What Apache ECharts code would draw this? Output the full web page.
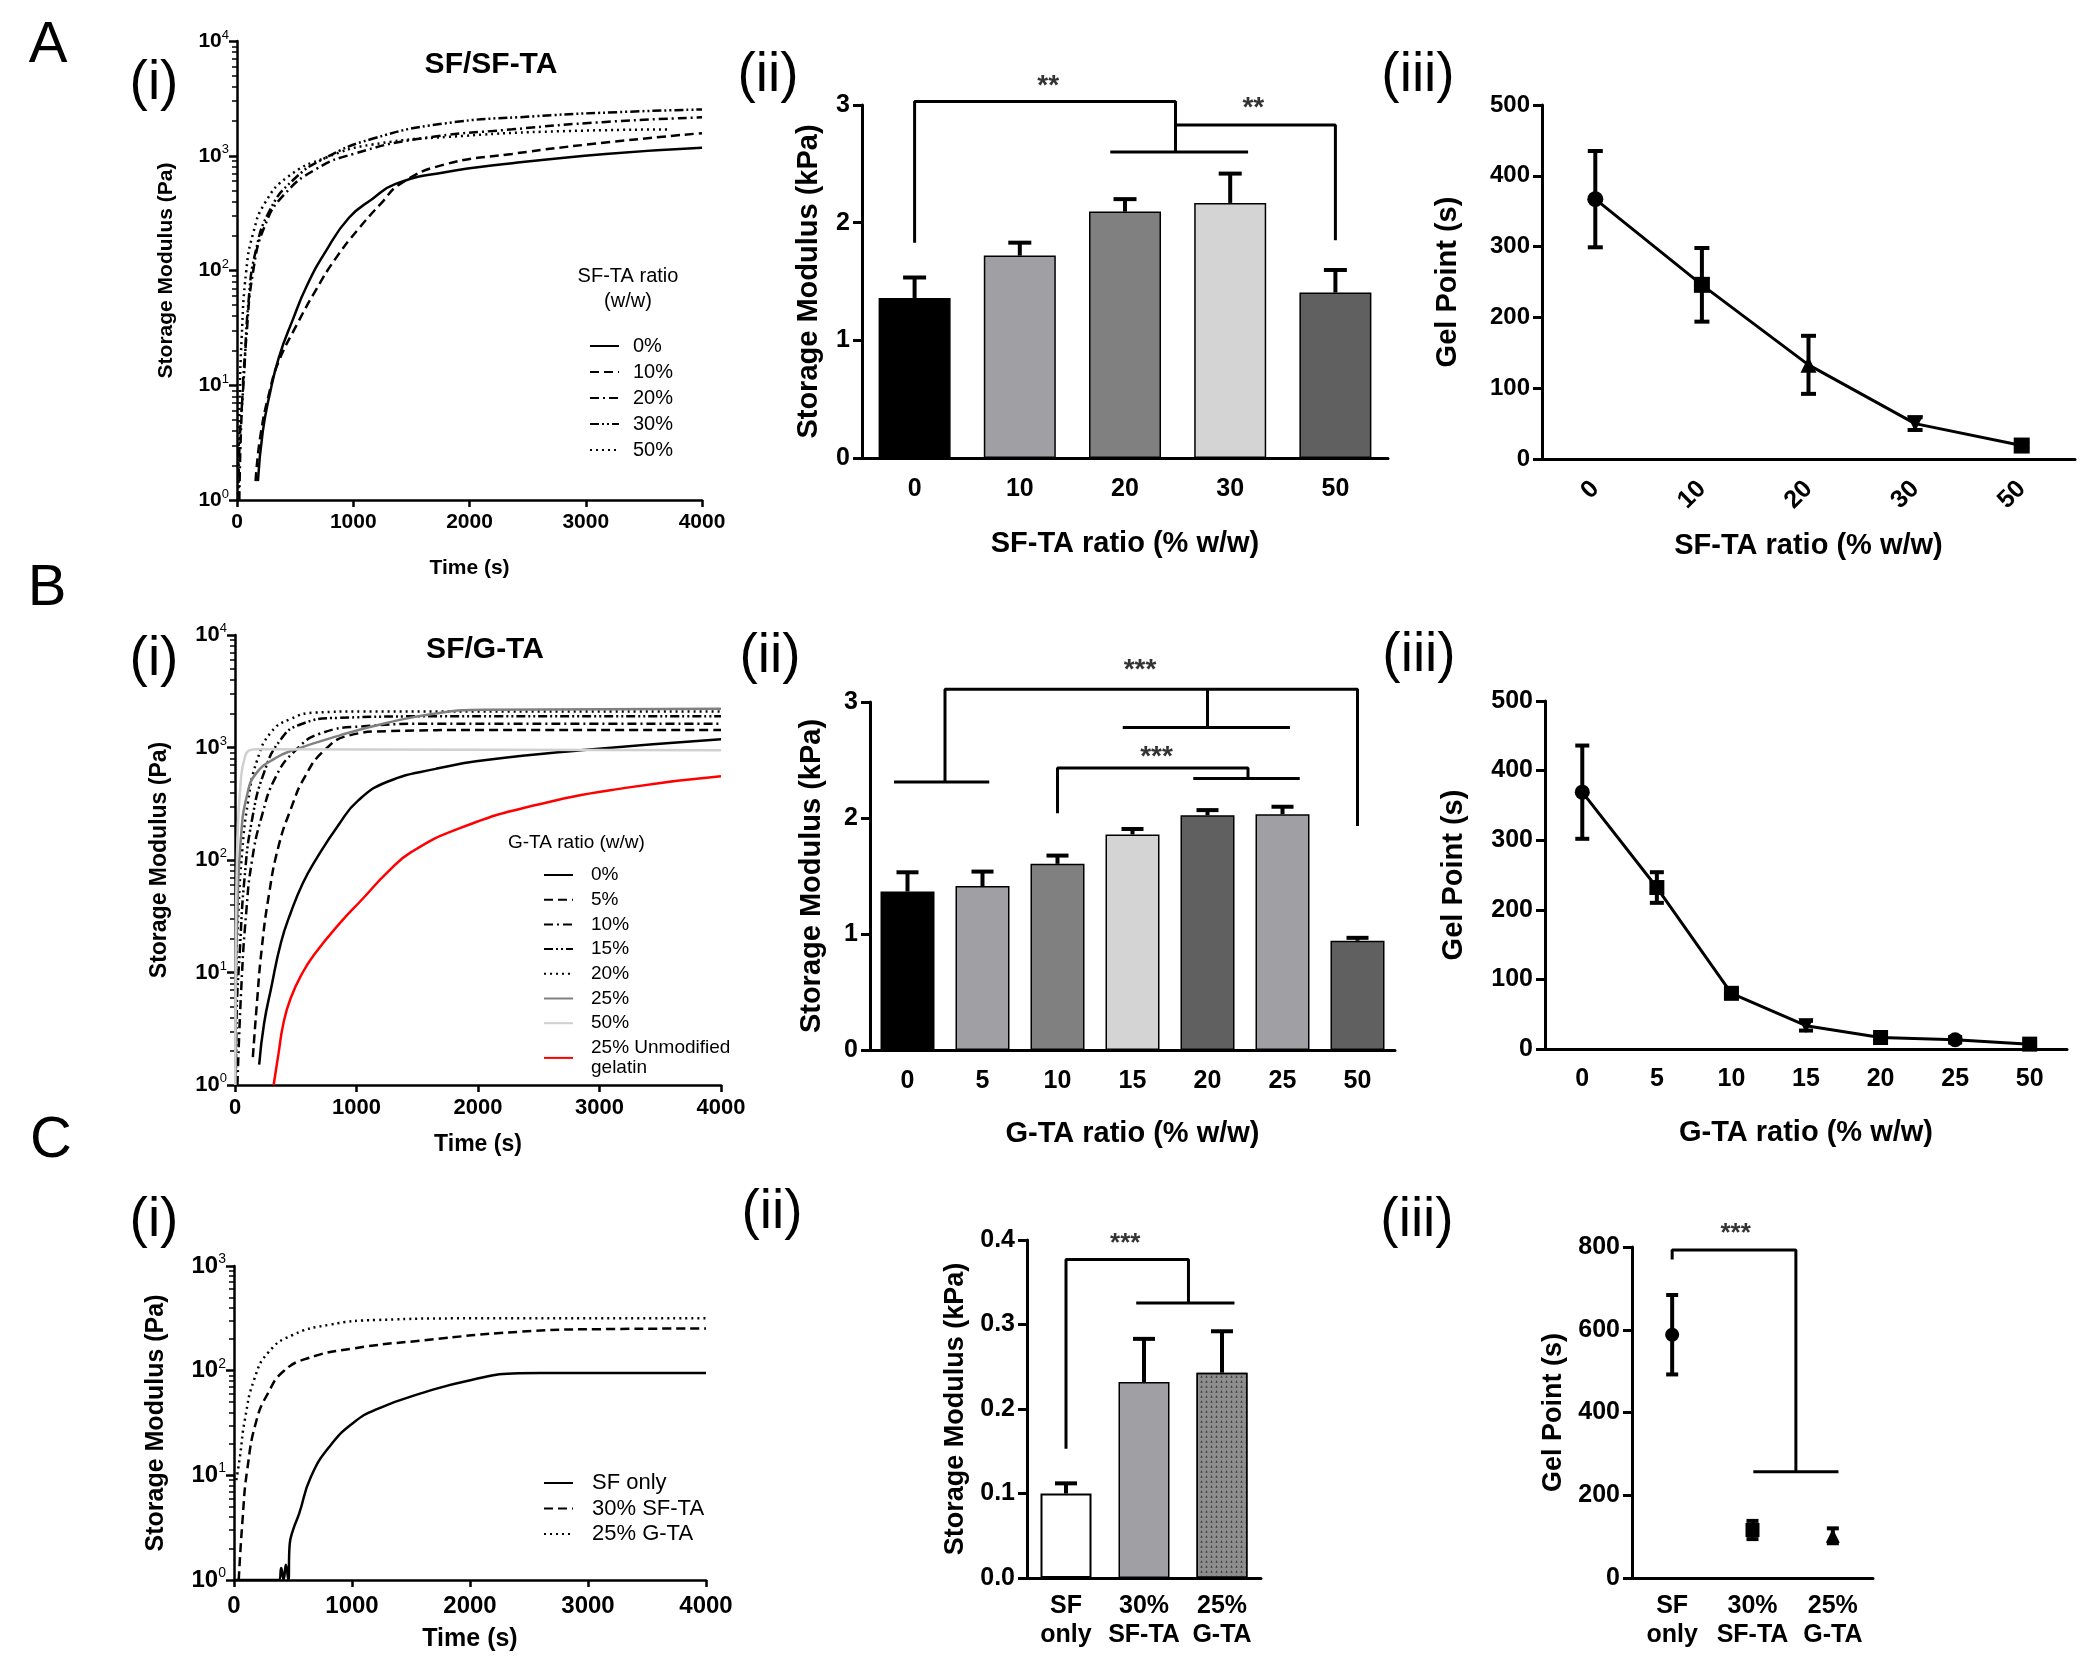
<!DOCTYPE html>
<html>
<head>
<meta charset="utf-8">
<title>Storage modulus and gel point of SF blends</title>
<script src="https://cdn.jsdelivr.net/npm/echarts@6.0.0/dist/echarts.min.js"></script>
<style>
  html, body { margin: 0; padding: 0; background: #fff; }
  #chart { width: 2100px; height: 1678px; }
</style>
</head>
<body>
<div id="chart"></div>
<script>
// ---------- data ----------
// A(i) storage modulus (Pa) vs time (s), SF/SF-TA
const sfTa0 = [[180,1.46],[221,3.9],[281,8.3],[361,17.6],[481,37.5],[602,74],[762,146],[963,288],[1164,420],[1364,568],[1765,712],[2367,860],[3170,1038],[4000,1176]];
const sfTa10 = [[160,1.46],[201,3.6],[281,8.9],[361,16.3],[522,34.8],[682,68.5],[843,125],[1043,229],[1244,389],[1404,568],[1765,828],[2367,1038],[3170,1303],[4000,1574]];
const sfTa20 = [[20,1],[40,5.7],[80,25.7],[140,100],[241,247],[401,453],[682,767],[1003,1038],[1565,1405],[2367,1698],[3170,1973],[4000,2160]];
const sfTa30 = [[12,1],[20,2.7],[60,12],[100,55],[160,146],[281,333],[481,612],[762,960],[1164,1405],[1765,1900],[2568,2210],[3371,2420],[4000,2530]];
const sfTa50 = [[8,1],[20,5.7],[40,25.7],[80,100],[140,213],[241,389],[441,660],[762,960],[1164,1253],[1966,1493],[2768,1633],[3731,1698]];

// B(i) storage modulus (Pa) vs time (s), SF/G-TA
const gTa0 = [[199,1.52],[239,3.5],[299,7.4],[378,18.4],[458,33.8],[557,61.8],[657,97.4],[856,208],[1015,339],[1254,496],[1652,646],[2050,769],[2846,944],[4000,1183]];
const gTa5 = [[147,1.77],[179,5.1],[219,15.9],[279,49],[358,132],[458,281],[577,555],[736,944],[935,1276],[1254,1397],[2050,1430],[4000,1430]];
const gTa10 = [[20,1],[52,7.4],[92,33.8],[139,97.5],[219,242],[338,555],[498,944],[697,1325],[1055,1542],[1652,1626],[4000,1626]];
const gTa15 = [[8,1],[12,3.5],[40,15.9],[80,72],[139,224],[239,598],[378,1183],[537,1602],[856,1836],[1652,1892],[4000,1892]];
const gTa20 = [[4,1],[8,7.4],[28,33.8],[60,122],[107,327],[179,751],[299,1377],[458,1795],[657,2042],[1055,2090],[4000,2090]];
const gTa25 = [[2,1],[4,3.5],[20,33.8],[48,153],[100,380],[179,598],[338,811],[458,929],[856,1276],[1254,1660],[1652,2010],[2050,2168],[4000,2210]];
const gTa50 = [[2,1],[4,7.4],[20,153],[48,516],[80,811],[119,944],[179,965],[4000,944]];
const gelatin25 = [[318,1],[358,1.9],[398,3.5],[458,5.9],[557,10],[657,14.7],[856,26.9],[1055,45.7],[1254,77.6],[1453,118],[1851,192],[2448,303],[3244,442],[4000,555]];

// C(i) storage modulus (Pa) vs time (s)
const sfOnlyCurve = [[0,1],[380,1],[400,1.3],[420,1],[440,1.4],[460,1],[472,2.2],[500,3],[552,4.3],[652,9.7],[812,19],[1012,31.8],[1212,43],[1612,62],[2012,81.6],[2412,94.6],[2600,95],[4000,95]];
const sfTa30Curve = [[40,1],[72,3.7],[112,11.3],[192,34],[292,62],[412,97],[612,130],[1012,163],[1612,195],[2412,235],[3212,250],[4000,253]];
const gTa25Curve = [[20,9],[50,15],[92,34],[172,83],[292,150],[492,218],[812,275],[1212,305],[2012,316],[4000,316]];

// A(ii)/A(iii) SF-TA ratio series
const sfTaRatios = ['0', '10', '20', '30', '50'];
const sfTaModulus = [1.36, 1.72, 2.094, 2.168, 1.406];
const sfTaModulusSd = [0.174, 0.11, 0.106, 0.249, 0.192];
const sfTaGel = [367, 246, 133, 50, 19];
const sfTaGelSd = [68, 52, 41, 9, 3.5];
const sfTaBrackets = [
  [[0, 1.83], [0, 3.03], [2.48, 3.03], [2.48, 2.6]],
  [[1.86, 2.6], [3.17, 2.6]],
  [[2.48, 2.83], [4, 2.83], [4, 1.85]]
];
const sfTaStars = [[1.27, 3.16, '**'], [3.22, 2.97, '**']];

// B(ii)/B(iii) G-TA ratio series
const gTaRatios = ['0', '5', '10', '15', '20', '25', '50'];
const gTaModulus = [1.366, 1.414, 1.605, 1.858, 2.024, 2.033, 0.942];
const gTaModulusSd = [0.166, 0.124, 0.071, 0.047, 0.044, 0.064, 0.025];
const gTaGel = [369, 232, 80, 33.5, 16.5, 13.3, 7];
const gTaGelSd = [67, 22, 4, 7, 3, 4, 6];
const gTaBrackets = [
  [[0.5, 2.31], [0.5, 3.11], [6, 3.11], [6, 1.93]],
  [[-0.18, 2.31], [1.09, 2.31]],
  [[4, 3.11], [4, 2.78]],
  [[2.87, 2.78], [5.1, 2.78]],
  [[2, 2.04], [2, 2.43], [4.54, 2.43], [4.54, 2.34]],
  [[3.81, 2.34], [5.23, 2.34]]
];
const gTaStars = [[3.1, 3.27, '***'], [3.32, 2.52, '***']];

// C(ii)/C(iii) comparison
const blendNames = ['SF\nonly', '30%\nSF-TA', '25%\nG-TA'];
const blendModulus = [0.100, 0.232, 0.243];
const blendModulusSd = [0.012, 0.051, 0.049];
const blendGel = [588, 116, 102];
const blendGelSd = [96, 22, 18];
const blendBrackets = [[[0, 0.153], [0, 0.377], [1.57, 0.377], [1.57, 0.3255]], [[0.9, 0.3255], [2.16, 0.3255]]];
const blendStars = [[0.76, 0.395, '***']];
const blendGelBrackets = [[[0, 770], [0, 793], [1.54, 793], [1.54, 257]], [[1.01, 257], [2.07, 257]]];
const blendGelStars = [[0.79, 831, '***']];

// ---------- styles ----------
const FONT = '"Liberation Sans", Arial, sans-serif';
const NARROW = '"Liberation Sans Narrow", "Liberation Sans", Arial, sans-serif';
const DASH = { solid: 'solid', dash: [9, 5], dashDot: [9, 4, 2, 4], dashDotDot: [9, 3, 2, 3, 2, 3], dot: [2, 4] };
const sfTaBarColors = ['#000000', '#a0a0a4', '#808080', '#d4d4d4', '#606060'];
const gTaBarColors = ['#000000', '#a0a0a4', '#808080', '#d4d4d4', '#606060', '#a0a0a4', '#606060'];
const sfTaSymbols = ['circle', 'rect', 'triangle', 'triangle', 'rect'];
const gTaSymbols = ['circle', 'rect', 'rect', 'triangle', 'rect', 'circle', 'rect'];

const chart = echarts.init(document.getElementById('chart'));

function curve(name, data, gi, dash, color, width) {
  return {
    name, type: 'line', xAxisIndex: gi, yAxisIndex: gi, data,
    symbol: 'none', showSymbol: false, smooth: 0.5,
    lineStyle: { color: color || '#000', width: width || 2.5, type: dash },
    itemStyle: { color: color || '#000' }, silent: true
  };
}

function timeAxis(gi, fs, margin, gap, nameFs) {
  return {
    type: 'value', gridIndex: gi, min: 0, max: 4000, interval: 1000,
    name: 'Time (s)', nameLocation: 'middle', nameGap: gap,
    nameTextStyle: { fontSize: nameFs, fontWeight: 'bold', fontFamily: FONT, color: '#000' },
    axisLine: { onZero: false, lineStyle: { color: '#000', width: 2.5 } },
    axisTick: { length: 7, lineStyle: { color: '#000', width: 2.5 } },
    axisLabel: { fontSize: fs, fontWeight: 'bold', fontFamily: NARROW, color: '#000', margin, formatter: v => String(v) },
    splitLine: { show: false }
  };
}

function logAxis(gi, max, fs, gap, nameFs) {
  return {
    type: 'log', logBase: 10, gridIndex: gi, min: 1, max,
    name: 'Storage Modulus (Pa)', nameLocation: 'middle', nameGap: gap,
    nameTextStyle: { fontSize: nameFs, fontWeight: 'bold', fontFamily: FONT, color: '#000' },
    axisLine: { show: true, onZero: false, lineStyle: { color: '#000', width: 2.5 } },
    axisTick: { show: true, length: 8, lineStyle: { color: '#000', width: 2.5 } },
    minorTick: { show: true, splitNumber: 9, length: 5, lineStyle: { color: '#000', width: 1.5 } },
    axisLabel: {
      margin: 8, color: '#000',
      formatter: v => '{b|10}{s|' + Math.round(Math.log10(v)) + '}',
      rich: {
        b: { fontSize: fs, fontWeight: 'bold', fontFamily: NARROW, color: '#000', lineHeight: fs + 4 },
        s: { fontSize: Math.round(fs * 0.6), fontFamily: NARROW, color: '#000', verticalAlign: 'top', lineHeight: Math.round(fs * 0.6) }
      }
    },
    splitLine: { show: false }
  };
}

function catAxis(gi, cats, fs, margin, name, gap, nameFs, rotate) {
  return {
    type: 'category', gridIndex: gi, data: cats, boundaryGap: true,
    name, nameLocation: 'middle', nameGap: gap,
    nameTextStyle: { fontSize: nameFs, fontWeight: 'bold', fontFamily: FONT, color: '#000' },
    axisLine: { onZero: false, lineStyle: { color: '#000', width: 3 } },
    axisTick: { alignWithLabel: true, length: 9, lineStyle: { color: '#000', width: 3 } },
    axisLabel: { interval: 0, rotate: rotate || 0, fontSize: fs, fontWeight: 'bold', fontFamily: FONT, color: '#000', margin, lineHeight: fs + 4 },
    splitLine: { show: false }
  };
}

function valAxis(gi, max, interval, name, gap, fs, nameFs, digits) {
  return {
    type: 'value', gridIndex: gi, min: 0, max, interval,
    name, nameLocation: 'middle', nameGap: gap,
    nameTextStyle: { fontSize: nameFs, fontWeight: 'bold', fontFamily: FONT, color: '#000' },
    axisLine: { show: true, onZero: false, lineStyle: { color: '#000', width: 3 } },
    axisTick: { show: true, length: 9, lineStyle: { color: '#000', width: 3 } },
    axisLabel: { fontSize: fs, fontWeight: 'bold', fontFamily: FONT, color: '#000', margin: 12,
      formatter: v => v.toFixed(digits || 0) },
    splitLine: { show: false }
  };
}

function hiddenX(gi, n) {
  return { type: 'value', gridIndex: gi, min: -0.5, max: n - 0.5, show: false };
}

function errorBars(xi, yi, means, sds, capW, twoSided, lw) {
  return {
    type: 'custom', xAxisIndex: xi, yAxisIndex: yi, z: 4, silent: true,
    data: means.map((m, i) => [i, m, sds[i]]),
    renderItem: (params, api) => {
      const i = api.value(0), m = api.value(1), s = api.value(2);
      const top = api.coord([i, m + s]);
      const bot = api.coord([i, twoSided ? m - s : m]);
      const st = { stroke: '#000', lineWidth: lw };
      const kids = [
        { type: 'line', shape: { x1: top[0], y1: top[1], x2: bot[0], y2: bot[1] }, style: st },
        { type: 'line', shape: { x1: top[0] - capW / 2, y1: top[1], x2: top[0] + capW / 2, y2: top[1] }, style: st }
      ];
      if (twoSided) kids.push({ type: 'line', shape: { x1: bot[0] - capW / 2, y1: bot[1], x2: bot[0] + capW / 2, y2: bot[1] }, style: st });
      return { type: 'group', children: kids };
    }
  };
}

function bars(xi, values, colors, width, extra) {
  return {
    type: 'bar', xAxisIndex: xi, yAxisIndex: xi, barWidth: width, silent: true, z: 3,
    data: values.map((v, i) => ({ value: v, itemStyle: Object.assign({ color: colors[i], borderColor: '#000', borderWidth: 1.5 }, (extra && extra[i]) || {}) }))
  };
}

function bracketSeries(xi, yi, brackets) {
  return brackets.map(b => ({
    type: 'line', xAxisIndex: xi, yAxisIndex: yi, data: b, symbol: 'none', clip: false, silent: true,
    lineStyle: { color: '#000', width: 3 }, z: 6
  }));
}

function starSeries(xi, yi, stars, fs) {
  return {
    type: 'scatter', xAxisIndex: xi, yAxisIndex: yi, clip: false, silent: true, symbolSize: 1,
    itemStyle: { color: 'rgba(0,0,0,0)' },
    data: stars.map(s => ({ value: [s[0], s[1]], name: s[2] })),
    label: { show: true, position: 'inside', formatter: '{b}', fontSize: fs, fontWeight: 'bold', fontFamily: FONT, color: '#000' }
  };
}

function gelLine(xi, values, symbols, size, withLine) {
  return {
    type: 'line', xAxisIndex: xi, yAxisIndex: xi, silent: true, z: 5,
    symbolSize: size,
    lineStyle: { color: '#000', width: withLine ? 3 : 0, opacity: withLine ? 1 : 0 },
    itemStyle: { color: '#000' },
    data: values.map((v, i) => ({ value: v, symbol: symbols[i], symbolRotate: (symbols[i] === 'triangle' && (i === 3)) ? 180 : 0 }))
  };
}

function legendBlock(names, left, top, fs, lh, gap, pad) {
  return {
    data: names, orient: 'vertical', left, top, itemWidth: 29, itemHeight: 14, itemGap: gap,
    selectedMode: false, formatter: n => n.slice(2),
    itemStyle: { color: 'rgba(0,0,0,0)', borderWidth: 0, opacity: 0 },
    textStyle: { fontSize: fs, fontFamily: FONT, color: '#000', lineHeight: lh, padding: [0, 0, 0, pad] }
  };
}

function txt(x, y, text, size, weight, align) {
  return { type: 'text', x, y, style: { text, fontSize: size, fontWeight: weight || 'normal', fontFamily: FONT, fill: '#000', align: align || 'center', verticalAlign: 'middle' } };
}

const option = {
  animation: false,
  backgroundColor: '#fff',
  grid: [
    { left: 237, top: 41, width: 465, height: 459 },
    { left: 862, top: 105, width: 526, height: 353 },
    { left: 1542, top: 105, width: 533, height: 354 },
    { left: 235, top: 635, width: 486, height: 450 },
    { left: 870, top: 702, width: 525, height: 348 },
    { left: 1545, top: 701, width: 522, height: 348 },
    { left: 234, top: 1266, width: 472, height: 314 },
    { left: 1027, top: 1240, width: 234, height: 338 },
    { left: 1632, top: 1247, width: 241, height: 331 }
  ],
  xAxis: [
    timeAxis(0, 21, 12, 58, 21),
    catAxis(1, sfTaRatios, 25, 17, 'SF-TA ratio (% w/w)', 71, 29),
    catAxis(2, sfTaRatios, 25, 26, 'SF-TA ratio (% w/w)', 72, 29, 45),
    timeAxis(3, 22, 12, 48, 23),
    catAxis(4, gTaRatios, 25, 17, 'G-TA ratio (% w/w)', 69, 29),
    catAxis(5, gTaRatios, 25, 16, 'G-TA ratio (% w/w)', 69, 29),
    timeAxis(6, 24, 14, 47, 25),
    catAxis(7, blendNames, 25, 14, '', 0, 25),
    catAxis(8, blendNames, 25, 14, '', 0, 25),
    hiddenX(1, 5), hiddenX(4, 7), hiddenX(7, 3), hiddenX(8, 3)
  ],
  yAxis: [
    logAxis(0, 10000, 21, 60, 21),
    valAxis(1, 3, 1, 'Storage Modulus (kPa)', 39, 25, 29),
    valAxis(2, 500, 100, 'Gel Point (s)', 80, 24, 29),
    logAxis(3, 10000, 22, 64, 23),
    valAxis(4, 3, 1, 'Storage Modulus (kPa)', 44, 25, 29),
    valAxis(5, 500, 100, 'Gel Point (s)', 77, 25, 29),
    logAxis(6, 1000, 24, 65, 25),
    valAxis(7, 0.4, 0.1, 'Storage Modulus (kPa)', 58, 25, 27, 1),
    valAxis(8, 800, 200, 'Gel Point (s)', 65, 25, 27)
  ],
  legend: [
    legendBlock(['A 0%', 'A 10%', 'A 20%', 'A 30%', 'A 50%'], 584, 331, 20, 20, 6, 9),
    legendBlock(['B 0%', 'B 5%', 'B 10%', 'B 15%', 'B 20%', 'B 25%', 'B 50%', 'B 25% Unmodified\ngelatin'], 538, 860, 19, 20, 4.7, 13),
    legendBlock(['C SF only', 'C 30% SF-TA', 'C 25% G-TA'], 538, 1467, 22, 22, 3.5, 14)
  ],
  graphic: [
    txt(48, 46, 'A', 58), txt(47, 589, 'B', 58), txt(51, 1141, 'C', 58),
    txt(154, 84, '(i)', 55), txt(768, 76, '(ii)', 55), txt(1418, 76, '(iii)', 55),
    txt(154, 660, '(i)', 55), txt(770, 657, '(ii)', 55), txt(1419, 656, '(iii)', 55),
    txt(154, 1221, '(i)', 55), txt(772, 1213, '(ii)', 55), txt(1417, 1221, '(iii)', 55),
    txt(491, 65, 'SF/SF-TA', 30, 'bold'), txt(485, 650, 'SF/G-TA', 30, 'bold'),
    txt(628, 276, 'SF-TA ratio', 20), txt(628, 301, '(w/w)', 20),
    txt(508, 843, 'G-TA ratio (w/w)', 19, 'normal', 'left')
  ],
  series: [
    curve('A 0%', sfTa0, 0, DASH.solid),
    curve('A 10%', sfTa10, 0, DASH.dash),
    curve('A 20%', sfTa20, 0, DASH.dashDot),
    curve('A 30%', sfTa30, 0, DASH.dashDotDot),
    curve('A 50%', sfTa50, 0, DASH.dot),
    curve('B 0%', gTa0, 3, DASH.solid),
    curve('B 5%', gTa5, 3, DASH.dash),
    curve('B 10%', gTa10, 3, DASH.dashDot),
    curve('B 15%', gTa15, 3, DASH.dashDotDot),
    curve('B 20%', gTa20, 3, DASH.dot),
    curve('B 25%', gTa25, 3, DASH.solid, '#808080'),
    curve('B 50%', gTa50, 3, DASH.solid, '#d0d0d0'),
    curve('B 25% Unmodified\ngelatin', gelatin25, 3, DASH.solid, '#ff0000'),
    curve('C SF only', sfOnlyCurve, 6, DASH.solid),
    curve('C 30% SF-TA', sfTa30Curve, 6, DASH.dash),
    curve('C 25% G-TA', gTa25Curve, 6, DASH.dot),

    bars(1, sfTaModulus, sfTaBarColors, 72),
    errorBars(1, 1, sfTaModulus, sfTaModulusSd, 23, false, 4),
    ...bracketSeries(9, 1, sfTaBrackets),
    starSeries(9, 1, sfTaStars, 28),

    errorBars(2, 2, sfTaGel, sfTaGelSd, 15, true, 4),
    gelLine(2, sfTaGel, sfTaSymbols, 16, true),

    bars(4, gTaModulus, gTaBarColors, 54),
    errorBars(4, 4, gTaModulus, gTaModulusSd, 22, false, 4),
    ...bracketSeries(10, 4, gTaBrackets),
    starSeries(10, 4, gTaStars, 28),

    errorBars(5, 5, gTaGel, gTaGelSd, 14, true, 4),
    gelLine(5, gTaGel, gTaSymbols, 15, true),

    bars(7, blendModulus, ['#ffffff', '#a0a0a4', '#8e8e8e'], 51, [
      { borderWidth: 2 }, {},
      { decal: { symbol: 'triangle', symbolSize: 0.8, color: '#3c3c3c', dashArrayX: [3, 2], dashArrayY: [3, 2], rotation: 0 } }
    ]),
    errorBars(7, 7, blendModulus, blendModulusSd, 22, false, 4),
    ...bracketSeries(11, 7, blendBrackets),
    starSeries(11, 7, blendStars, 26),

    errorBars(8, 8, blendGel, blendGelSd, 12, true, 4),
    gelLine(8, blendGel, ['circle', 'rect', 'triangle'], 14, false),
    ...bracketSeries(12, 8, blendGelBrackets),
    starSeries(12, 8, blendGelStars, 26)
  ]
};

chart.setOption(option);
</script>
</body>
</html>
